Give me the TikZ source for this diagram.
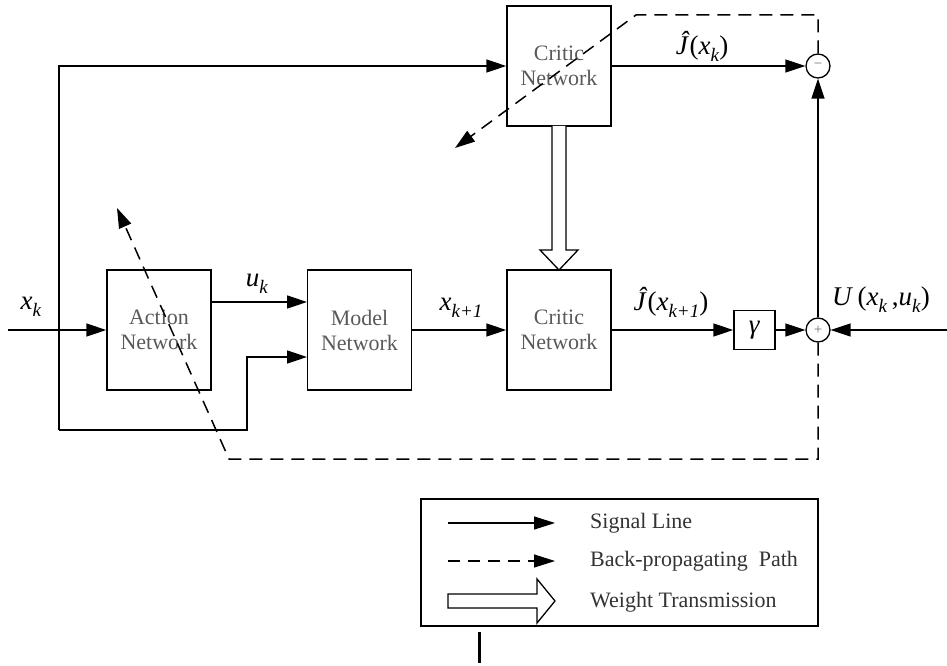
\documentclass[tikz,border=0pt]{standalone}
\usepackage{fontspec}
\setmainfont{Liberation Serif}
\usetikzlibrary{arrows.meta}
% italic variable with a dropped italic subscript
\newcommand{\vsub}[2]{\textit{#1}\raisebox{-7pt}{\fontsize{19}{19}\selectfont\textit{#2}}}
\begin{document}
\begin{tikzpicture}[x=1pt,y=-1pt,
  sig/.style={line width=1.5pt,-{Triangle[length=20pt,width=13pt]}},
  bp/.style={line width=1.5pt,dash pattern=on 13pt off 8pt,-{Triangle[length=20pt,width=13pt]}},
  block/.style={draw,line width=1.5pt,minimum width=104pt,minimum height=120pt,inner sep=0pt,
    align=center,font=\fontsize{22}{25}\selectfont,text=black!65},
  junction/.style={circle,draw,line width=1.3pt,minimum size=24pt,inner sep=0pt,
    font=\fontsize{15}{15}\selectfont,text=black!55},
  lbl/.style={font=\fontsize{27}{27}\selectfont,inner sep=0pt},
  legtext/.style={anchor=west,font=\fontsize{22}{22}\selectfont,text=black!80,inner sep=0pt},
  wt/.style={line width=1.3pt,fill=white}]
\useasboundingbox (0,0) rectangle (947,666);

% blocks
\node[block] (critTop) at (559,66) {Critic\\Network};
\node[block] (action)  at (159,330) {Action\\Network};
\node[block] (model)   at (359.5,330) {Model\\Network};
\node[block] (critBot) at (559,330) {Critic\\Network};
\node[draw,line width=1.5pt,minimum width=41pt,minimum height=39pt,inner sep=0pt,
      font=\fontsize{27}{27}\selectfont] (gam) at (754.5,330) {\textit{γ}};
\node[junction] (diff) at (818,66) {−};
\node[junction] (sum)  at (818,330) {+};

% connector end points
\coordinate (xin)  at (8,330);
\coordinate (tl)   at (59,66);
\coordinate (bl)   at (59,430);
\coordinate (bend) at (247,357);
\coordinate (min2) at (307,357);
\coordinate (uo)   at (211,302);
\coordinate (ui)   at (307,302);
\coordinate (uin)  at (947,330);
\coordinate (d1)   at (818,15);
\coordinate (d2)   at (636,15);
\coordinate (d3)   at (455,148);
\coordinate (e1)   at (818,459);
\coordinate (e2)   at (229,459);
\coordinate (e3)   at (117,208);

% signal lines
\draw[sig] (xin) -- (action.west);
\draw[sig] (bl) -- (tl) -- (critTop.west);
\draw[sig] (bl) -| (bend) -- (min2);
\draw[sig] (uo) -- (ui);
\draw[sig] (model.east) -- (critBot.west);
\draw[sig] (critBot.east) -- (gam.west);
\draw[sig] (gam.east) -- (sum.west);
\draw[sig] (uin) -- (sum.east);
\draw[sig] (sum.north) -- (diff.south);
\draw[sig] (critTop.east) -- (diff.west);

% back-propagating paths
\draw[bp] (diff.north) -- (d1) -- (d2) -- (d3);
\draw[bp] (sum.south) -- (e1) -- (e2) -- (e3);

% weight transmission between the two critics
\draw[wt] (552,126) -- (552,250) -- (540,250) -- (559,270) -- (578,250) -- (566,250) -- (566,126);

% labels
\node[lbl] (lxk)  at (31,307)  {\vsub{x}{k}};
\node[lbl] (luk)  at (257,284) {\vsub{u}{k}};
\node[lbl] (lxk1) at (461,308) {\vsub{x}{k+1}};
\node[lbl] (lJ1)  at (671,302) {\textit{\^J}(\vsub{x}{k+1})};
\node[lbl] (lJ)   at (702,46)  {\textit{\^J}(\vsub{x}{k})};
\node[lbl,anchor=west] (lU) at (832,300) {\textit{U}\,(\vsub{x}{k}\,,\vsub{u}{k})};

% legend
\node[draw,line width=1.3pt,minimum width=397pt,minimum height=127pt,inner sep=0pt] (legend) at (619.5,562.5) {};
\coordinate (s1) at (448,523);
\coordinate (s2) at (555,523);
\coordinate (b1) at (448,561);
\coordinate (b2) at (555,561);
\draw[line width=1.2pt,-{Triangle[length=21pt,width=13pt]}] (s1) -- (s2);
\draw[line width=1.2pt,dash pattern=on 12pt off 8pt,-{Triangle[length=21pt,width=13pt]}] (b1) -- (b2);
\draw[wt] (448,594) -- (537,594) -- (537,579) -- (555,601) -- (537,623) -- (537,608) -- (448,608) -- cycle;
\node[legtext] (t1) at (590,523) {Signal Line};
\node[legtext] (t2) at (590,561) {Back-propagating\ \ Path};
\node[legtext] (t3) at (590,602) {Weight Transmission};
\draw[line width=3pt] (479,632) -- (479,663);
\end{tikzpicture}
\end{document}
